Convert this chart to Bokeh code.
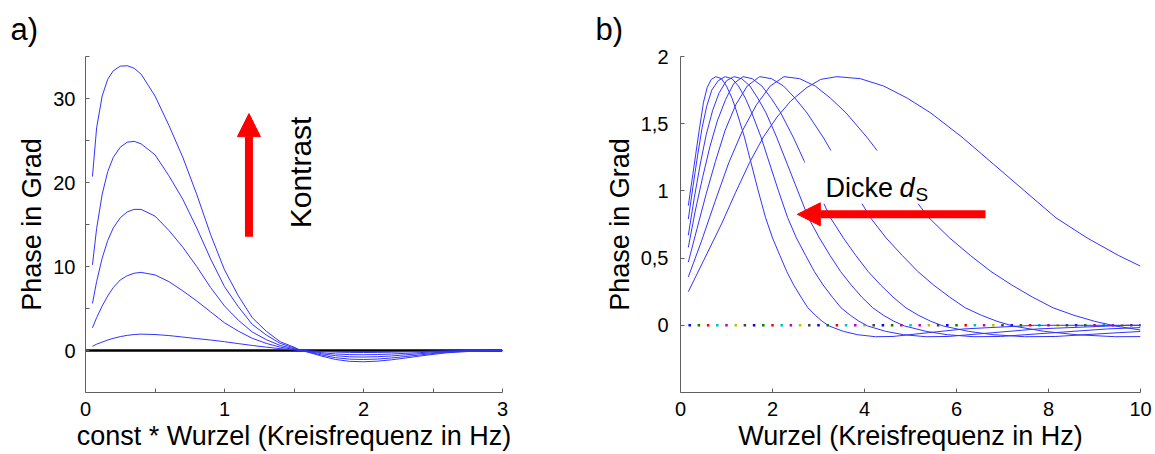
import math
from bokeh.plotting import figure
from bokeh.layouts import row
from bokeh.models import Range1d, FixedTicker, Span, Arrow, NormalHead, Label, BoxAnnotation
from bokeh.embed import file_html
from bokeh.resources import INLINE

FONT = "Liberation Sans"
BLUE = "#3333ff"
AXIS_GRAY = "#606060"

# ---------------- Panel a data ----------------
freq_a = [0.05, 0.08, 0.12, 0.16, 0.2, 0.25, 0.3, 0.35, 0.4, 0.5, 0.6, 0.7, 0.8, 0.9, 1.0,
          1.1, 1.2, 1.3, 1.4, 1.5, 1.55, 1.6, 1.7, 1.8, 1.9, 2.0, 2.1, 2.2, 2.3, 2.4, 2.5,
          2.6, 2.8, 3.0]
phase_a1 = [20.7, 26.5, 30.3, 32.3, 33.3, 33.85, 33.9, 33.6, 32.9, 30.3, 26.8, 23.0, 18.6, 13.8, 9.6,
            6.5, 3.9, 2.3, 1.05, 0.4, 0.0, -0.2, -0.67, -1.07, -1.29, -1.34, -1.27, -1.11, -0.9, -0.67,
            -0.46, -0.27, -0.07, 0.0]
phase_a2 = [10.2, 14.5, 18.6, 21.3, 23.0, 24.2, 24.8, 24.9, 24.6, 23.3, 20.8, 18.0, 14.6, 10.9, 7.6,
            5.2, 3.1, 1.85, 0.85, 0.32, 0.0, -0.16, -0.54, -0.86, -1.03, -1.07, -1.02, -0.89, -0.72, -0.54,
            -0.36, -0.21, -0.05, 0.0]
phase_a3 = [5.6, 8.2, 11.0, 13.1, 14.6, 15.8, 16.5, 16.8, 16.8, 16.0, 14.3, 12.3, 10.0, 7.5, 5.3,
            3.6, 2.2, 1.3, 0.6, 0.22, 0.0, -0.12, -0.39, -0.62, -0.75, -0.78, -0.74, -0.65, -0.52, -0.39,
            -0.27, -0.16, -0.04, 0.0]
phase_a4 = [2.7, 3.9, 5.3, 6.5, 7.5, 8.4, 8.9, 9.2, 9.3, 9.0, 8.2, 7.1, 5.9, 4.6, 3.3,
            2.3, 1.45, 0.85, 0.4, 0.13, 0.0, -0.08, -0.26, -0.41, -0.49, -0.51, -0.48, -0.42, -0.34, -0.26,
            -0.17, -0.1, -0.03, 0.0]
phase_a5 = [0.5, 0.75, 1.0, 1.25, 1.45, 1.65, 1.8, 1.9, 1.95, 1.9, 1.78, 1.6, 1.42, 1.25, 1.05,
            0.82, 0.6, 0.4, 0.22, 0.07, 0.0, -0.04, -0.12, -0.19, -0.23, -0.24, -0.23, -0.2, -0.16, -0.12,
            -0.08, -0.05, -0.01, 0.0]
phases_a = [phase_a1, phase_a2, phase_a3, phase_a4, phase_a5]

xticks_a = [0, 0.5, 1, 1.5, 2, 2.5, 3]
xtick_labels_a = ["0", "", "1", "", "2", "", "3"]
yticks_a = [0, 5, 10, 15, 20, 25, 30, 35]
ytick_labels_a = ["0", "", "10", "", "20", "", "30", ""]

# ---------------- Panel b data ----------------
freq_b1 = [0.17, 0.25, 0.33, 0.41, 0.5, 0.58, 0.67, 0.77, 0.89, 1.0, 1.12, 1.23, 1.39, 1.54, 1.69,
           1.85, 2.0, 2.16, 2.31, 2.46, 2.62, 2.77, 2.93, 3.08, 3.23, 3.54, 3.85, 4.24, 4.62, 5.39,
           6.16, 7.7, 10.0]
phase_b1 = [0.89, 1.08, 1.27, 1.46, 1.66, 1.77, 1.83, 1.85, 1.835, 1.78, 1.69, 1.58, 1.40, 1.20, 1.00,
            0.80, 0.65, 0.52, 0.40, 0.30, 0.21, 0.13, 0.075, 0.03, -0.005, -0.045, -0.07, -0.085, -0.083, -0.055,
            -0.027, 0.0, 0.0]
freq_b2 = [0.17, 0.27, 0.37, 0.47, 0.57, 0.68, 0.82, 0.97, 1.12, 1.26, 1.41, 1.55, 1.75, 1.94, 2.13,
           2.33, 2.52, 2.72, 2.91, 3.1, 3.3, 3.49, 3.69, 3.88, 4.07, 4.46, 4.85, 5.34, 5.82, 6.79,
           7.76, 9.7, 10.0]
phase_b2 = [0.79, 1.03, 1.26, 1.47, 1.63, 1.75, 1.82, 1.85, 1.835, 1.78, 1.69, 1.58, 1.40, 1.20, 1.00,
            0.80, 0.65, 0.52, 0.40, 0.30, 0.21, 0.13, 0.075, 0.03, -0.005, -0.045, -0.07, -0.085, -0.083, -0.055,
            -0.027, 0.0, 0.0]
freq_b3 = [0.17, 0.3, 0.43, 0.56, 0.7, 0.84, 1.0, 1.16, 1.33, 1.51, 1.68, 1.86, 2.09, 2.32, 2.55,
           2.78, 3.02, 3.25, 3.48, 3.71, 3.94, 4.18, 4.41, 4.64, 4.87, 5.34, 5.8, 6.38, 6.96, 8.12,
           9.28, 10.0]
phase_b3 = [0.67, 0.95, 1.2, 1.42, 1.6, 1.73, 1.82, 1.85, 1.835, 1.78, 1.69, 1.58, 1.40, 1.20, 1.00,
            0.80, 0.65, 0.52, 0.40, 0.30, 0.21, 0.13, 0.075, 0.03, -0.005, -0.045, -0.07, -0.085, -0.083, -0.055,
            -0.027, -0.017]
freq_b4 = [0.17, 0.32, 0.48, 0.64, 0.8, 0.98, 1.16, 1.36, 1.56, 1.77, 1.97, 2.18, 2.45, 2.72, 2.99,
           3.26, 3.54, 3.81, 4.08, 4.35, 4.62, 4.9, 5.17, 5.44, 5.71, 6.26, 6.8, 7.48, 8.16, 9.52,
           10.0]
phase_b4 = [0.58, 0.85, 1.1, 1.33, 1.52, 1.68, 1.8, 1.85, 1.835, 1.78, 1.69, 1.58, 1.40, 1.20, 1.00,
            0.80, 0.65, 0.52, 0.40, 0.30, 0.21, 0.13, 0.075, 0.03, -0.005, -0.045, -0.07, -0.085, -0.083, -0.055,
            -0.046]
freq_b5 = [0.17, 0.36, 0.56, 0.76, 0.97, 1.2, 1.45, 1.72, 1.98, 2.24, 2.49, 2.75, 3.1, 3.44, 3.78,
           4.13, 4.47, 4.82, 5.16, 5.5, 5.85, 6.19, 6.54, 6.88, 7.22, 7.91, 8.6, 9.46, 10.0]
phase_b5 = [0.47, 0.72, 0.98, 1.22, 1.45, 1.64, 1.78, 1.85, 1.835, 1.78, 1.69, 1.58, 1.40, 1.20, 1.00,
            0.80, 0.65, 0.52, 0.40, 0.30, 0.21, 0.13, 0.075, 0.03, -0.005, -0.045, -0.07, -0.085, -0.084]
freq_b6 = [0.17, 0.45, 0.75, 1.05, 1.35, 1.65, 1.95, 2.25, 2.59, 2.93, 3.26, 3.6, 4.05, 4.5, 4.95,
           5.4, 5.85, 6.3, 6.75, 7.2, 7.65, 8.1, 8.55, 9.0, 9.45, 10.0]
phase_b6 = [0.36, 0.62, 0.92, 1.21, 1.45, 1.64, 1.78, 1.85, 1.835, 1.78, 1.69, 1.58, 1.40, 1.20, 1.00,
            0.80, 0.65, 0.52, 0.40, 0.30, 0.21, 0.13, 0.075, 0.03, -0.005, -0.035]
freq_b7 = [0.17, 0.5, 0.9, 1.2, 1.5, 1.8, 2.1, 2.4, 2.75, 3.05, 3.4, 3.91, 4.42, 4.93, 5.44,
           6.12, 6.8, 7.48, 8.16, 8.84, 9.52, 10.0]
phase_b7 = [0.25, 0.48, 0.76, 0.99, 1.21, 1.40, 1.55, 1.67, 1.77, 1.83, 1.85, 1.835, 1.78, 1.69, 1.58,
            1.40, 1.20, 1.00, 0.80, 0.65, 0.52, 0.44]
curves_b = [(freq_b1, phase_b1), (freq_b2, phase_b2), (freq_b3, phase_b3), (freq_b4, phase_b4),
            (freq_b5, phase_b5), (freq_b6, phase_b6), (freq_b7, phase_b7)]

zero_dot_x = [0.2, 0.4, 0.6, 0.8, 1.0, 1.2, 1.4, 1.6, 1.8, 2.0, 2.2, 2.4, 2.6, 2.8, 3.0, 3.2, 3.4,
              3.6, 3.8, 4.0, 4.2, 4.4, 4.6, 4.8, 5.0, 5.2, 5.4, 5.6, 5.8, 6.0, 6.2, 6.4, 6.6, 6.8,
              7.0, 7.2, 7.4, 7.6, 7.8, 8.0, 8.2, 8.4, 8.6, 8.8, 9.0, 9.2, 9.4, 9.6, 9.8, 10.0]
zero_dot_y = [0.0] * len(zero_dot_x)
matlab_colors = ["#0000ff", "#008000", "#ff0000", "#00bfbf", "#bf00bf", "#bfbf00", "#404040"]
zero_dot_colors = [matlab_colors[i % len(matlab_colors)] for i in range(len(zero_dot_x))]

xticks_b = [0, 2, 4, 6, 8, 10]
xtick_labels_b = ["0", "2", "4", "6", "8", "10"]
yticks_b = [0, 0.5, 1, 1.5, 2]
ytick_labels_b = ["0", "0,5", "1", "1,5", "2"]


def style(p, xticks, xlabels, yticks, ylabels, xlabel, ylabel):
    p.outline_line_color = None
    p.grid.visible = False
    p.background_fill_color = "white"
    p.border_fill_color = "white"
    p.xaxis.ticker = FixedTicker(ticks=xticks)
    p.yaxis.ticker = FixedTicker(ticks=yticks)
    p.xaxis.major_label_overrides = {float(t): l for t, l in zip(xticks, xlabels)}
    p.yaxis.major_label_overrides = {float(t): l for t, l in zip(yticks, ylabels)}
    p.xaxis.axis_label = xlabel
    p.yaxis.axis_label = ylabel
    for ax in (p.xaxis[0], p.yaxis[0]):
        ax.axis_line_color = AXIS_GRAY
        ax.axis_line_width = 1
        ax.major_tick_line_color = AXIS_GRAY
        ax.major_tick_in = 4
        ax.major_tick_out = 0
        ax.minor_tick_line_color = None
        ax.major_label_text_font = FONT
        ax.major_label_text_font_size = "20px"
        ax.major_label_text_color = "black"
        ax.axis_label_text_font = FONT
        ax.axis_label_text_font_size = "27px"
        ax.axis_label_text_font_style = "normal"
        ax.axis_label_text_color = "black"
    p.xaxis.major_label_standoff = 9
    p.xaxis.axis_label_standoff = 2
    p.yaxis.axis_label_standoff = 3
    p.title.text_font = FONT
    p.title.text_font_size = "31px"
    p.title.text_font_style = "normal"
    p.title.text_color = "black"
    p.title.align = "left"
    p.title.standoff = 19


# ---------------- Panel a ----------------
pa = figure(width=590, height=454, x_range=Range1d(0, 3), y_range=Range1d(-5, 35),
            output_backend="svg", toolbar_location=None, title="a)",
            min_border_left=85, min_border_right=88, min_border_top=56, min_border_bottom=62)
style(pa, xticks_a, xtick_labels_a, yticks_a, ytick_labels_a,
      "const * Wurzel (Kreisfrequenz in Hz)", "Phase in Grad")
pa.yaxis.major_label_standoff = 10
pa.title.offset = -75

pa.add_layout(Span(location=0, dimension="width", line_color="black", line_width=2.5, level="underlay"))
for ph in phases_a:
    pa.line(freq_a, ph, line_color=BLUE, line_width=1)

pa.add_layout(Arrow(x_start=1.176, y_start=13.55, x_end=1.176, y_end=28.2,
                    line_color="red", line_width=8,
                    end=NormalHead(size=23, fill_color="red", line_color="red", line_width=1)))
pa.add_layout(Label(x=1.55, y=21.2, text="Kontrast", angle=math.pi / 2,
                    text_font=FONT, text_font_size="30px", text_align="center",
                    text_baseline="alphabetic", text_color="black"))

# ---------------- Panel b ----------------
pb = figure(width=565, height=454, x_range=Range1d(0, 10), y_range=Range1d(-0.5, 2),
            output_backend="svg", toolbar_location=None, title="b)",
            min_border_left=90, min_border_right=15, min_border_top=56, min_border_bottom=58)
style(pb, xticks_b, xtick_labels_b, yticks_b, ytick_labels_b,
      "Wurzel (Kreisfrequenz in Hz)", "Phase in Grad")
pb.yaxis.major_label_standoff = 12
pb.title.offset = -85

pb.scatter(zero_dot_x, zero_dot_y, marker="square", size=2.5, fill_color=zero_dot_colors,
           line_color=None)
for fx, ph in curves_b:
    pb.line(fx, ph, line_color=BLUE, line_width=1)

pb.add_layout(BoxAnnotation(left=2.7, right=5.9, bottom=0.905, top=1.30,
                            fill_color="white", fill_alpha=1.0, line_color=None))
pb.add_layout(Label(x=3.15, y=1.021, text="Dicke", text_font=FONT, text_font_size="27px",
                    text_align="left", text_baseline="alphabetic", text_color="black"))
pb.add_layout(Label(x=4.76, y=1.021, text="d", text_font=FONT, text_font_size="27px",
                    text_font_style="italic", text_align="left", text_baseline="alphabetic",
                    text_color="black"))
pb.add_layout(Label(x=5.11, y=0.975, text="S", text_font=FONT, text_font_size="19px",
                    text_align="left", text_baseline="alphabetic", text_color="black"))
pb.add_layout(Arrow(x_start=6.63, y_start=0.826, x_end=2.54, y_end=0.826,
                    line_color="red", line_width=8,
                    end=NormalHead(size=23, fill_color="red", line_color="red", line_width=1)))

layout = row(pa, pb)
open("out.html", "w").write(file_html(layout, INLINE))
